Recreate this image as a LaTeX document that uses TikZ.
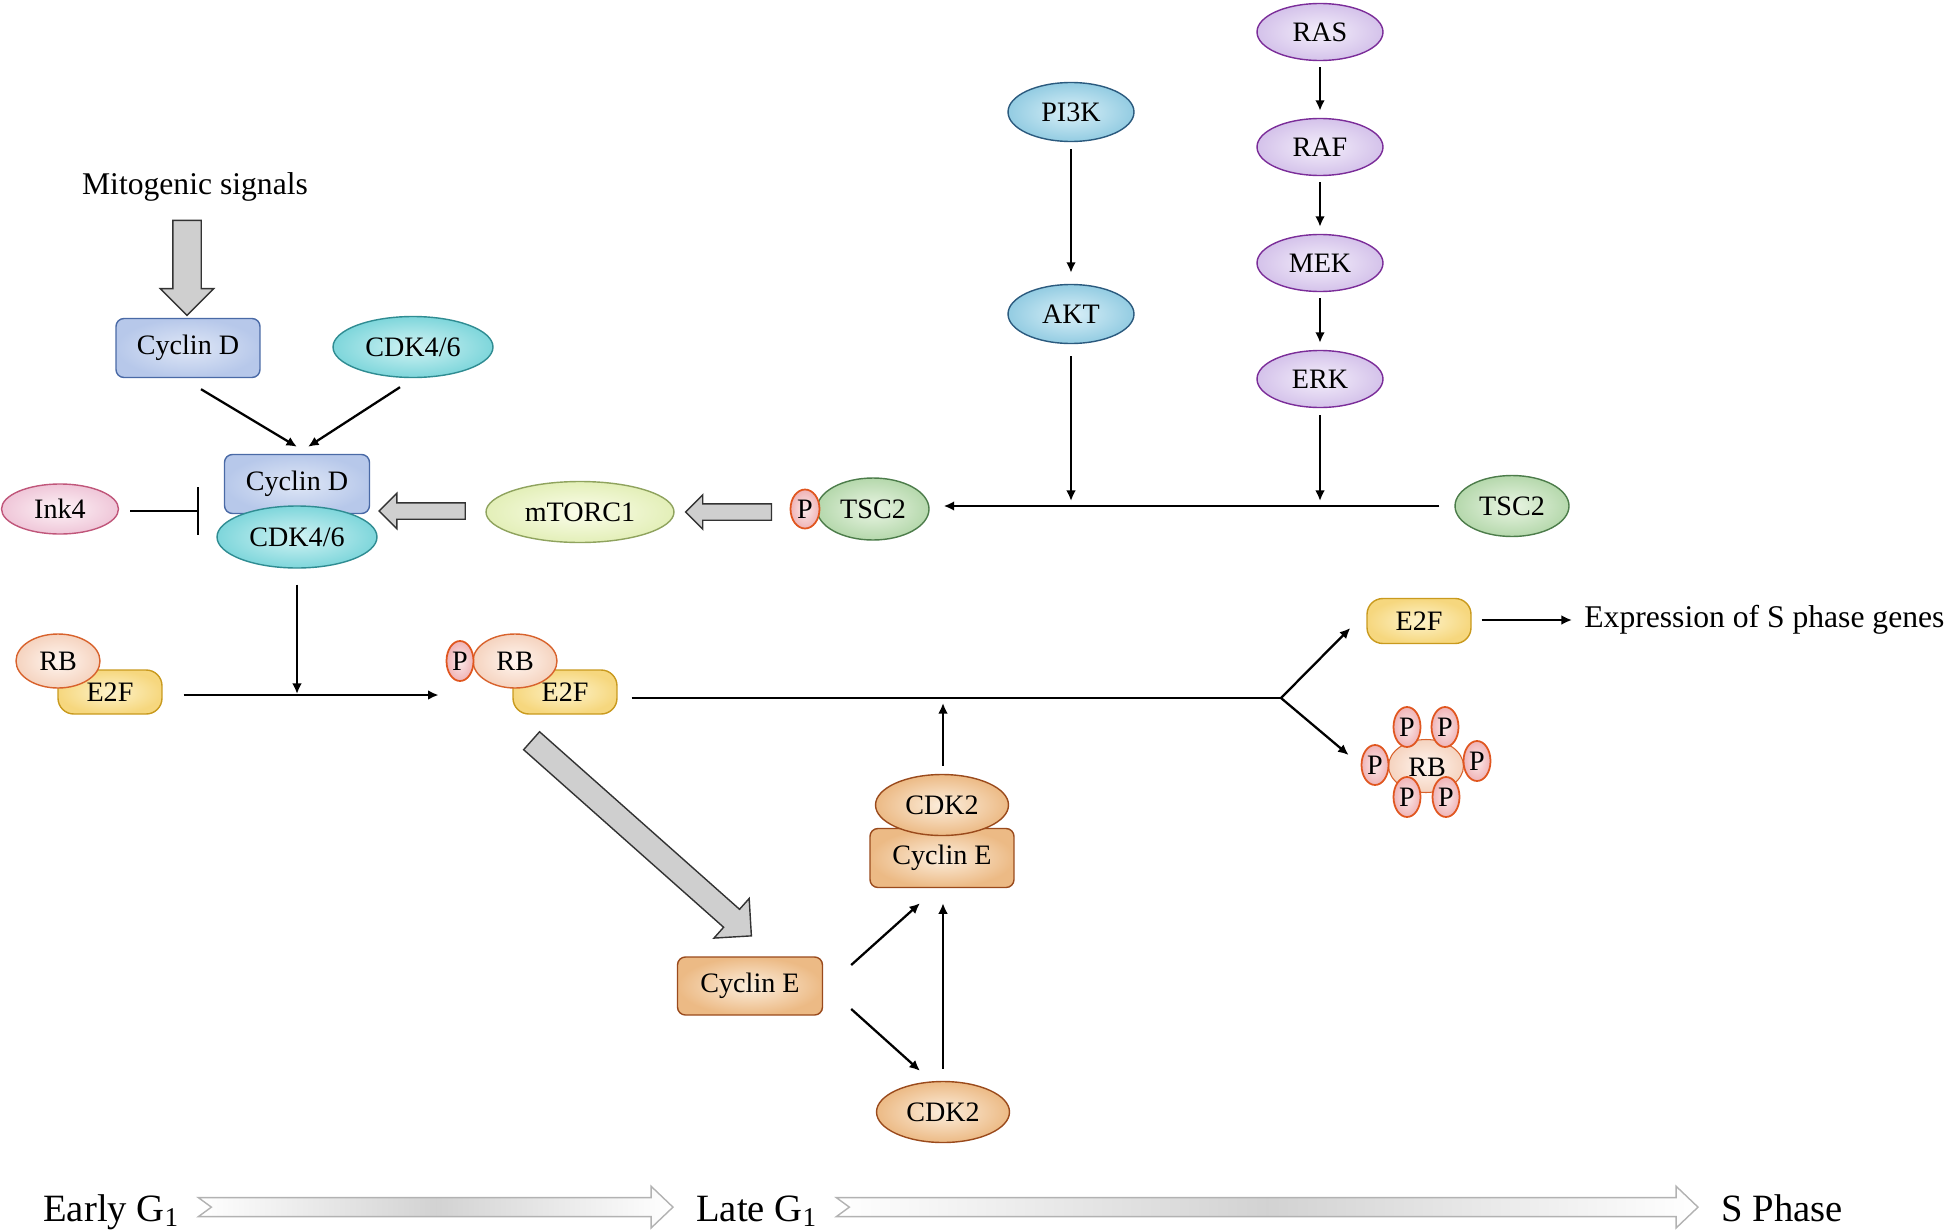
\documentclass[tikz,border=0pt]{standalone}
\usepackage{fontspec}
\setmainfont{Liberation Serif}
\usetikzlibrary{shapes.geometric,shapes.arrows,arrows.meta,calc}

\definecolor{cycdline}{HTML}{4A6AA6}\definecolor{cycdin}{HTML}{DFE7F6}\definecolor{cycdout}{HTML}{B7C8EA}
\definecolor{cdkline}{HTML}{2F8C92}\definecolor{cdkin}{HTML}{D2F3F4}\definecolor{cdkout}{HTML}{7ED6DB}
\definecolor{inkline}{HTML}{C0567A}\definecolor{inkin}{HTML}{FDF3F7}\definecolor{inkout}{HTML}{EFC6D8}
\definecolor{mtorline}{HTML}{8FA35E}\definecolor{mtorin}{HTML}{FBFDEB}\definecolor{mtorout}{HTML}{E3EFB8}
\definecolor{tscline}{HTML}{4C7C4A}\definecolor{tscin}{HTML}{EAF5E4}\definecolor{tscout}{HTML}{B5D8AC}
\definecolor{pline}{HTML}{E0561F}\definecolor{pin}{HTML}{FCEAEA}\definecolor{pout}{HTML}{EFB3B6}
\definecolor{rbline}{HTML}{D8622C}\definecolor{rbin}{HTML}{FFF6F0}\definecolor{rbout}{HTML}{F5D3BF}
\definecolor{eline}{HTML}{C99A1E}\definecolor{ein}{HTML}{FDF3CB}\definecolor{eout}{HTML}{F6D77E}
\definecolor{aktline}{HTML}{2B5A7E}\definecolor{aktin}{HTML}{DAF0F8}\definecolor{aktout}{HTML}{93CCE2}
\definecolor{rasline}{HTML}{7B2D99}\definecolor{rasin}{HTML}{F4EFFB}\definecolor{rasout}{HTML}{D4C2EA}
\definecolor{cyceline}{HTML}{9A4A1C}\definecolor{cycein}{HTML}{FCEEDD}\definecolor{cyceout}{HTML}{ECBA85}

\tikzset{
  prot/.style={draw, line width=0.8pt, inner sep=0pt, font=\fontsize{16}{19}\selectfont},
  ovalprot/.style={prot, ellipse},
  boxprot/.style={prot, rectangle, rounded corners=4.5pt},
  cycd/.style={boxprot, draw=cycdline, inner color=cycdin, outer color=cycdout},
  cdk/.style={ovalprot, draw=cdkline, inner color=cdkin, outer color=cdkout},
  ink/.style={ovalprot, draw=inkline, inner color=inkin, outer color=inkout},
  mtor/.style={ovalprot, draw=mtorline, inner color=mtorin, outer color=mtorout},
  tsc/.style={ovalprot, draw=tscline, inner color=tscin, outer color=tscout},
  pmark/.style={ovalprot, line width=1pt, draw=pline, inner color=pin, outer color=pout,
    minimum width=0.56cm, minimum height=0.8cm},
  rb/.style={ovalprot, draw=rbline, inner color=rbin, outer color=rbout},
  e2f/.style={prot, rectangle, rounded corners=9pt, draw=eline, inner color=ein, outer color=eout,
    minimum width=2.08cm, minimum height=0.88cm},
  akt/.style={ovalprot, draw=aktline, inner color=aktin, outer color=aktout,
    minimum width=2.52cm, minimum height=1.18cm},
  ras/.style={ovalprot, draw=rasline, inner color=rasin, outer color=rasout,
    minimum width=2.52cm, minimum height=1.14cm},
  cyce/.style={boxprot, draw=cyceline, inner color=cycein, outer color=cyceout},
  cdktwo/.style={ovalprot, draw=cyceline, inner color=cycein, outer color=cyceout,
    minimum width=2.66cm, minimum height=1.22cm},
  arr/.style={line width=1.3pt, -{Latex[length=6pt,width=5.5pt]}},
  link/.style={line width=1.3pt},
  inh/.style={line width=1.3pt, -{Bar[width=0.96cm]}},
  blockarr/.style={single arrow, draw=black!80, fill=gray!38, line width=0.8pt,
    inner xsep=0pt, minimum width=0pt, single arrow tip angle=90},
  phasearr/.style={draw=gray!60, line width=0.8pt, left color=white, right color=white, middle color=gray!35},
  freetext/.style={inner sep=0pt, font=\fontsize{18}{21}\selectfont},
  phasetext/.style={inner sep=0pt, font=\fontsize{22}{26}\selectfont}
}

% fat notched arrow between two phase labels
\newcommand{\phasearrow}[2]{%
  \draw[phasearr] let \p1=($(#1.base east)+(19,0)$), \p2=($(#2.base west)+(-23,0)$) in
    (\x1,\y1+13.3pt) -- (\x2-12.5pt,\y1+13.3pt) -- (\x2-12.5pt,\y1+19.8pt) -- (\x2,\y1+7.9pt)
    -- (\x2-12.5pt,\y1-4pt) -- (\x2-12.5pt,\y1+2.5pt) -- (\x1,\y1+2.5pt) -- (\x1+7.4pt,\y1+7.9pt) -- cycle;
}

\begin{document}
\begin{tikzpicture}[x=0.02cm, y=-0.02cm]
    \useasboundingbox (0,0) rectangle (1946,1230);

    % Mitogenic signals, cyclin D and CDK4/6
    \node[freetext] (mito) at (195,187) {Mitogenic signals};
    \node[cycd, minimum width=2.88cm, minimum height=1.18cm] (cycD) at (188,348) {Cyclin D};
    \node[cdk, minimum width=3.2cm, minimum height=1.22cm] (cdkA) at (413,347) {CDK4/6};
    \node[blockarr, rotate=-90, minimum height=1.9cm, inner ysep=0.27cm,
          single arrow head extend=0.25cm] (mitoarr) at ($(cycD.north)+(-1,-57)$) {};

    % Cyclin D / CDK4/6 complex
    \node[cycd, minimum width=2.9cm, minimum height=1.18cm] (cycDc) at (297,484) {Cyclin D};
    \node[cdk, minimum width=3.2cm, minimum height=1.24cm] (cdkc) at (297,537) {CDK4/6};
    \node[ink, minimum width=2.34cm, minimum height=1cm] (ink) at (60,509) {Ink4};
    \draw[arr] ($(cycD.south)+(13,11)$) -- ($(cycDc.north)+(0,-7)$);
    \draw[arr] ($(cdkA.south)+(-13,9)$) -- ($(cycDc.north)+(11,-7)$);
    \draw[inh] ($(ink.east)+(11,2)$) -- ($(ink.east -| cdkc.west)+(-17,2)$);

    % mTORC1 and TSC2
    \node[mtor, minimum width=3.76cm, minimum height=1.22cm] (mtor) at (580,512) {mTORC1};
    \node[tsc, minimum width=2.24cm, minimum height=1.24cm] (tscL) at (873,509) {TSC2};
    \node[pmark, minimum width=0.58cm, minimum height=0.78cm] (pT) at (805,509) {P};
    \node[tsc, minimum width=2.28cm, minimum height=1.22cm] (tscR) at (1512,506) {TSC2};
    \node[blockarr, rotate=180, minimum height=1.72cm, inner ysep=0.15cm,
          single arrow head extend=0.19cm] (mtorarr) at ($(mtor.west)+(-59,-1)$) {};
    \node[blockarr, rotate=180, minimum height=1.72cm, inner ysep=0.15cm,
          single arrow head extend=0.18cm] (tscarr) at ($(pT.west)+(-57,3)$) {};
    \draw[arr] ($(tscR.west)+(-15,0)$) -- ($(tscL.east |- tscR.west)+(14,0)$);

    % PI3K/AKT and RAS/ERK pathways
    \node[akt] (pi3k) at (1071,112) {PI3K};
    \node[akt] (akt) at (1071,314) {AKT};
    \node[ras] (ras) at (1320,32) {RAS};
    \node[ras] (raf) at (1320,147) {RAF};
    \node[ras] (mek) at (1320,263) {MEK};
    \node[ras] (erk) at (1320,379) {ERK};
    \draw[arr] ($(pi3k.south)+(0,7)$) -- ($(akt.north)+(0,-11)$);
    \draw[arr] ($(akt.south)+(0,12)$) -- ($(akt.south |- tscR.west)+(0,-5)$);
    \draw[arr] ($(ras.south)+(0,6)$) -- ($(raf.north)+(0,-7)$);
    \draw[arr] ($(raf.south)+(0,6)$) -- ($(mek.north)+(0,-7)$);
    \draw[arr] ($(mek.south)+(0,6)$) -- ($(erk.north)+(0,-7)$);
    \draw[arr] ($(erk.south)+(0,7)$) -- ($(erk.south |- tscR.west)+(0,-5)$);

    % RB / E2F
    \node[e2f] (e2fA) at (110,692) {E2F};
    \node[rb, minimum width=1.68cm, minimum height=1.08cm] (rbA) at (58,661) {RB};
    \node[e2f] (e2fB) at (565,692) {E2F};
    \node[rb, minimum width=1.68cm, minimum height=1.08cm] (rbB) at (515,661) {RB};
    \node[pmark, minimum width=0.54cm] (pB) at (460,661) {P};
    \draw[arr] ($(cdkc.south)+(0,16)$) -- ($(cdkc.south |- e2fA.center)+(0,2)$);
    \draw[arr] ($(e2fA.east)+(21,3)$) -- ($(pB.west |- e2fA.east)+(-7,3)$);

    % release of E2F
    \coordinate (fork) at (1281,698);
    \node[e2f, minimum height=0.9cm] (e2fC) at (1419,621) {E2F};
    \node[freetext, anchor=west] (expr) at (1584,620) {Expression of S phase genes};
    \node[rb, line width=0.6pt, minimum width=1.5cm, minimum height=1.06cm] (rbD) at (1426,766) {};
    \foreach \a/\b [count=\i] in {1407/727, 1445/727, 1375/765, 1477/761, 1407/797, 1446/797}
        \node[pmark, minimum width=0.54cm] (pD\i) at (\a,\b) {P};
    \node[prot, draw=none] at (1427,767) {RB};
    \draw[link] ($(e2fB.east)+(14,6)$) -- (fork);
    \draw[arr] (fork) -- ($(e2fC.west)+(-16,7)$);
    \draw[arr] (fork) -- ($(pD3.west)+(-12,-10)$);
    \draw[arr] ($(e2fC.east)+(10,-1)$) -- ($(expr.west)+(-12,0)$);

    % Cyclin E / CDK2
    \node[cyce, minimum width=2.88cm, minimum height=1.18cm] (cycEc) at (942,858) {Cyclin E};
    \node[cdktwo] (cdk2c) at (942,805) {CDK2};
    \node[cyce, minimum width=2.9cm, minimum height=1.16cm] (cycE) at (750,986) {Cyclin E};
    \node[cdktwo] (cdk2) at (943,1112) {CDK2};
    \node[blockarr, rotate=-41.6, minimum height=5.88cm, inner ysep=0.226cm,
          single arrow head extend=0.29cm] (e2farr) at ($(cycE.north)+(-113,-122)$) {};
    \draw[arr] ($(cdk2c.north)+(1,-8)$) -- ($(cdk2c.north |- fork)+(1,5)$);
    \draw[arr] ($(cycE.east)+(28,-21)$) -- ($(cycEc.south)+(-22,15)$);
    \draw[arr] ($(cycE.east)+(28,23)$) -- ($(cdk2.north)+(-23,-10)$);
    \draw[arr] ($(cdk2.north)+(0,-12)$) -- ($(cycEc.south)+(1,15)$);

    % cell cycle phases
    \node[phasetext, anchor=base west] (early) at (43,1221) {Early G\textsubscript{1}};
    \node[phasetext, anchor=base west] (late) at (696,1221) {Late G\textsubscript{1}};
    \node[phasetext, anchor=base west] (sph) at (1721,1221) {S Phase};
    \phasearrow{early}{late}
    \phasearrow{late}{sph}
\end{tikzpicture}
\end{document}
